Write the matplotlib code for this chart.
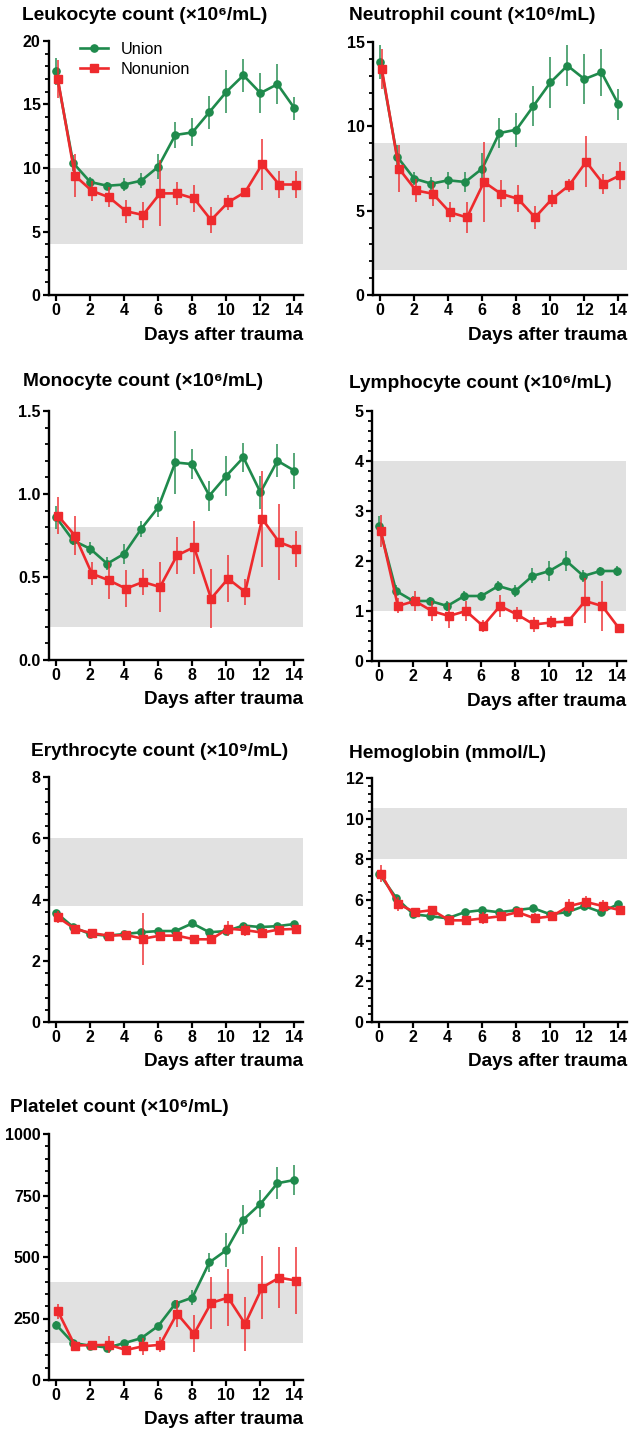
import matplotlib
matplotlib.use("Agg")
import matplotlib.pyplot as plt
from matplotlib.ticker import MultipleLocator, AutoMinorLocator, FormatStrFormatter
from matplotlib.lines import Line2D

plt.rcParams["font.family"] = ["Liberation Sans", "DejaVu Sans"]

GREEN = "#1f8a4c"
RED = "#ee2a2d"
BAND = "#e1e1e1"

days = list(range(15))

# Leukocyte count (x10^6/mL)
leuko_u = [17.6, 10.4, 8.9, 8.6, 8.7, 9.0, 10.1, 12.6, 12.8, 14.4, 16.0, 17.3, 15.9, 16.6, 14.7]
leuko_u_err = [1.1, 0.6, 0.4, 0.3, 0.5, 0.6, 1.0, 1.0, 1.1, 1.3, 1.7, 1.3, 1.6, 1.6, 0.9]
leuko_n = [17.0, 9.4, 8.2, 7.7, 6.6, 6.3, 8.0, 8.0, 7.6, 5.9, 7.3, 8.1, 10.3, 8.7, 8.7]
leuko_n_err = [1.5, 1.7, 0.8, 0.8, 0.9, 1.0, 2.6, 0.9, 1.1, 1.0, 0.6, 0.3, 2.0, 1.1, 1.1]
leuko_ref = (4, 10)

# Neutrophil count (x10^6/mL)
neutro_u = [13.8, 8.2, 6.9, 6.6, 6.8, 6.7, 7.5, 9.6, 9.8, 11.2, 12.6, 13.6, 12.8, 13.2, 11.3]
neutro_u_err = [1.0, 0.7, 0.4, 0.4, 0.5, 0.6, 0.9, 0.9, 1.0, 1.2, 1.5, 1.2, 1.5, 1.4, 0.9]
neutro_n = [13.4, 7.5, 6.2, 6.0, 4.9, 4.6, 6.7, 6.0, 5.7, 4.6, 5.7, 6.5, 7.9, 6.6, 7.1]
neutro_n_err = [1.2, 1.4, 0.7, 0.7, 0.6, 0.9, 2.4, 0.8, 0.8, 0.7, 0.5, 0.4, 1.5, 0.6, 0.8]
neutro_ref = (1.5, 9)

# Monocyte count (x10^6/mL)
mono_u = [0.86, 0.72, 0.67, 0.58, 0.64, 0.79, 0.92, 1.19, 1.18, 0.99, 1.11, 1.22, 1.01, 1.20, 1.14]
mono_u_err = [0.07, 0.03, 0.04, 0.04, 0.06, 0.05, 0.06, 0.19, 0.09, 0.09, 0.12, 0.09, 0.10, 0.10, 0.11]
mono_n = [0.87, 0.75, 0.52, 0.48, 0.43, 0.47, 0.44, 0.63, 0.68, 0.37, 0.49, 0.41, 0.85, 0.71, 0.67]
mono_n_err = [0.11, 0.12, 0.07, 0.11, 0.11, 0.08, 0.15, 0.11, 0.16, 0.18, 0.14, 0.08, 0.29, 0.23, 0.11]
mono_ref = (0.2, 0.8)

# Lymphocyte count (x10^6/mL)
lympho_u = [2.7, 1.4, 1.2, 1.2, 1.1, 1.3, 1.3, 1.5, 1.4, 1.7, 1.8, 2.0, 1.7, 1.8, 1.8]
lympho_u_err = [0.2, 0.12, 0.1, 0.08, 0.1, 0.1, 0.08, 0.1, 0.12, 0.15, 0.2, 0.2, 0.12, 0.08, 0.1]
lympho_n = [2.6, 1.1, 1.2, 1.0, 0.9, 1.0, 0.7, 1.1, 0.93, 0.73, 0.77, 0.79, 1.2, 1.1, 0.65]
lympho_n_err = [0.32, 0.15, 0.2, 0.2, 0.25, 0.2, 0.12, 0.22, 0.15, 0.15, 0.12, 0.05, 0.45, 0.5, 0.05]
lympho_ref = (1, 4)

# Erythrocyte count (x10^9/mL)
ery_u = [3.57, 3.1, 2.87, 2.82, 2.87, 2.93, 2.97, 2.97, 3.22, 2.93, 2.97, 3.15, 3.1, 3.13, 3.2]
ery_u_err = [0.08, 0.07, 0.06, 0.05, 0.05, 0.06, 0.06, 0.06, 0.07, 0.06, 0.07, 0.07, 0.06, 0.06, 0.06]
ery_n = [3.42, 3.04, 2.9, 2.82, 2.84, 2.72, 2.82, 2.82, 2.7, 2.7, 3.05, 3.0, 2.92, 3.02, 3.04]
ery_n_err = [0.2, 0.12, 0.08, 0.06, 0.06, 0.85, 0.1, 0.06, 0.06, 0.12, 0.25, 0.2, 0.15, 0.06, 0.06]
ery_ref = (3.8, 6)

# Hemoglobin (mmol/L)
hb_u = [7.3, 6.1, 5.3, 5.2, 5.1, 5.4, 5.5, 5.4, 5.5, 5.6, 5.3, 5.4, 5.7, 5.4, 5.8]
hb_u_err = [0.2, 0.12, 0.1, 0.08, 0.08, 0.1, 0.1, 0.08, 0.08, 0.1, 0.1, 0.1, 0.12, 0.1, 0.1]
hb_n = [7.3, 5.8, 5.4, 5.5, 5.0, 5.0, 5.1, 5.2, 5.4, 5.1, 5.2, 5.7, 5.9, 5.7, 5.5]
hb_n_err = [0.4, 0.35, 0.2, 0.15, 0.1, 0.1, 0.3, 0.15, 0.15, 0.25, 0.2, 0.35, 0.3, 0.3, 0.1]
hb_ref = (8, 10.5)

# Platelet count (x10^6/mL)
plt_u = [225, 150, 140, 132, 150, 170, 220, 310, 335, 478, 528, 652, 716, 800, 813]
plt_u_err = [15, 15, 10, 10, 8, 10, 12, 15, 30, 40, 70, 60, 55, 65, 60]
plt_n = [280, 140, 142, 143, 122, 137, 143, 270, 188, 313, 335, 228, 376, 416, 404]
plt_n_err = [30, 20, 10, 35, 10, 35, 30, 55, 75, 105, 115, 110, 130, 125, 135]
plt_ref = (150, 400)

W, H = 635, 1443
fig = plt.figure(figsize=(W / 100, H / 100), dpi=100)

# (title, title x/y px, axes box px: left, right, top, bottom, ymax, ystep, fmt, data)
PANELS = [
    ("Leukocyte count (\u00d710\u2076/mL)", 22, 15, (49, 303, 41, 295), 20, 5, "%d",
     leuko_u, leuko_u_err, leuko_n, leuko_n_err, leuko_ref),
    ("Neutrophil count (\u00d710\u2076/mL)", 349, 15, (373, 627, 42, 295), 15, 5, "%d",
     neutro_u, neutro_u_err, neutro_n, neutro_n_err, neutro_ref),
    ("Monocyte count (\u00d710\u2076/mL)", 23, 382, (49, 303, 411, 660), 1.5, 0.5, "%.1f",
     mono_u, mono_u_err, mono_n, mono_n_err, mono_ref),
    ("Lymphocyte count (\u00d710\u2076/mL)", 349, 383, (372, 626, 411, 661), 5, 1, "%d",
     lympho_u, lympho_u_err, lympho_n, lympho_n_err, lympho_ref),
    ("Erythrocyte count (\u00d710\u2079/mL)", 31, 752, (49, 303, 777, 1022), 8, 2, "%d",
     ery_u, ery_u_err, ery_n, ery_n_err, ery_ref),
    ("Hemoglobin (mmol/L)", 349, 753, (372, 627, 778, 1022), 12, 2, "%d",
     hb_u, hb_u_err, hb_n, hb_n_err, hb_ref),
    ("Platelet count (\u00d710\u2076/mL)", 10, 1108, (49, 303, 1134, 1380), 1000, 250, "%d",
     plt_u, plt_u_err, plt_n, plt_n_err, plt_ref),
]


def draw(ax, u, ue, n, ne, ref, ymax, ystep, fmt):
    ax.axhspan(ref[0], ref[1], color=BAND, lw=0, zorder=0)
    eb = ax.errorbar(days, u, yerr=ue, color=GREEN, lw=1.9, marker="o", ms=5.2,
                     elinewidth=1.4, capsize=0, zorder=3)
    eb[2][0].set_alpha(0.75)
    xs = [d + 0.1 for d in days]
    eb = ax.errorbar(xs, n, yerr=ne, color=RED, lw=1.9, marker="s", ms=5.6,
                     elinewidth=1.4, capsize=0, zorder=4)
    eb[2][0].set_alpha(0.75)
    ax.set_xlim(-0.42, 14.5)
    ax.set_ylim(0, ymax)
    ax.xaxis.set_major_locator(MultipleLocator(2))
    ax.yaxis.set_major_locator(MultipleLocator(ystep))
    ax.yaxis.set_minor_locator(AutoMinorLocator(5))
    ax.yaxis.set_major_formatter(FormatStrFormatter(fmt))
    for s in ("top", "right"):
        ax.spines[s].set_visible(False)
    for s in ("left", "bottom"):
        ax.spines[s].set_linewidth(1.7)
        ax.spines[s].set_zorder(5)
    ax.tick_params(axis="both", which="major", length=4, width=1.6,
                   labelsize=11.5, pad=2)
    ax.tick_params(axis="y", which="minor", length=2.6, width=1.3)
    for lab in ax.get_xticklabels() + ax.get_yticklabels():
        lab.set_fontweight("bold")


for (title, tx, ty, box, ymax, ystep, fmt, u, ue, n, ne, ref) in PANELS:
    l, r, t, b = box
    ax = fig.add_axes([l / W, 1 - b / H, (r - l) / W, (b - t) / H])
    draw(ax, u, ue, n, ne, ref, ymax, ystep, fmt)
    fig.text(tx / W, 1 - ty / H, title, fontsize=13.8, fontweight="bold",
             ha="left", va="center")
    fig.text(r / W, 1 - (b + 40) / H, "Days after trauma", fontsize=13.6,
             fontweight="bold", ha="right", va="center")
    if title.startswith("Leukocyte"):
        handles = [
            Line2D([], [], color=GREEN, lw=1.9, marker="o", ms=5.2),
            Line2D([], [], color=RED, lw=1.9, marker="s", ms=5.6),
        ]
        fig.legend(handles, ["Union", "Nonunion"], loc="upper left",
                   bbox_to_anchor=(80 / W, 1 - 42 / H), frameon=False,
                   fontsize=11.7, handlelength=1.7, handletextpad=0.8,
                   labelspacing=0.3, borderpad=0, borderaxespad=0)

fig.savefig("out.png", dpi=100)
